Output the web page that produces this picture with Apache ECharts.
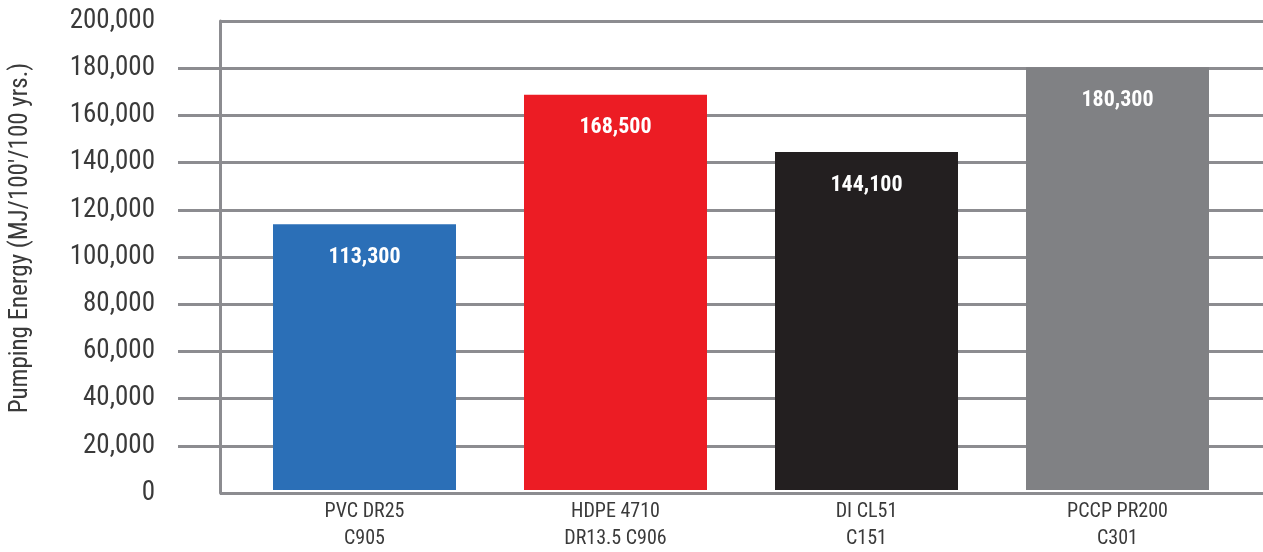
<!DOCTYPE html>
<html><head><meta charset="utf-8">
<script src="https://cdn.jsdelivr.net/npm/echarts@6/dist/echarts.min.js"></script>
<style>html,body{margin:0;padding:0;background:#fff}#c{width:1263px;height:552px}</style>
</head><body><div id="c"></div>
<script>
const categories = ['PVC DR25\nC905', 'HDPE 4710\nDR13.5 C906', 'DI CL51\nC151', 'PCCP PR200\nC301'];
const values = [113300, 168500, 144100, 180300];
const barColors = ['#2b6fb7', '#ec1c24', '#231f20', '#808184'];
const yTicks = [0, 20000, 40000, 60000, 80000, 100000, 120000, 140000, 160000, 180000, 200000];
const yName = "Pumping Energy (MJ/100'/100 yrs.)";

const FONT = '"Liberation Sans Narrow", "Roboto Condensed", "DejaVu Sans Condensed", "Liberation Sans", sans-serif';
const GRID = '#8c8c90';
const yMin = yTicks[0], yMax = yTicks[yTicks.length - 1], yStep = yTicks[1] - yTicks[0];

const chart = echarts.init(document.getElementById('c'), null, {renderer: 'canvas'});
chart.setOption({
  animation: false,
  backgroundColor: '#fff',
  grid: [
    {left: 178, right: 0, top: 21, bottom: 59},
    {left: 220, right: 0, top: 21, bottom: 59},
    {left: 239, right: 20, top: 21, bottom: 59},
    {left: 178, right: 0, top: 0, bottom: 76}
  ],
  xAxis: [
    {gridIndex: 0, type: 'value', show: false},
    {gridIndex: 1, type: 'value', show: false},
    {gridIndex: 2, type: 'category', data: categories,
      axisLine: {show: false}, axisTick: {show: false},
      axisLabel: {color: '#3a3a3a', fontFamily: FONT, fontSize: 20, lineHeight: 27, margin: 8}},
    {gridIndex: 3, type: 'value', show: false}
  ],
  yAxis: [
    {gridIndex: 0, type: 'value', min: yMin, max: yMax, interval: yStep,
      axisLine: {show: false}, axisTick: {show: false},
      axisLabel: {color: '#3a3a3a', fontFamily: FONT, fontSize: 27, margin: 23,
        formatter: v => v.toLocaleString('en-US')},
      splitLine: {show: true, showMinLine: false, showMaxLine: false, lineStyle: {color: GRID, width: 3}}},
    {gridIndex: 1, type: 'value', min: yMin, max: yMax, interval: yMax - yMin,
      axisLine: {show: true, lineStyle: {color: GRID, width: 3}}, axisTick: {show: false},
      axisLabel: {show: false},
      splitLine: {show: true, lineStyle: {color: GRID, width: 3}}},
    {gridIndex: 2, type: 'value', min: yMin, max: yMax, interval: yStep, show: false},
    {gridIndex: 3, type: 'value', axisLine: {show: false}, axisTick: {show: false},
      axisLabel: {show: false}, splitLine: {show: false},
      name: yName, nameLocation: 'middle', nameGap: 145,
      nameTextStyle: {color: '#3a3a3a', fontFamily: FONT, fontSize: 25}}
  ],
  series: [{
    type: 'bar', xAxisIndex: 2, yAxisIndex: 2, barWidth: 183,
    data: values.map((v, i) => ({value: v, itemStyle: {color: barColors[i]}})),
    label: {show: true, position: 'insideTop', distance: 22, color: '#fff',
      fontFamily: FONT, fontWeight: 'bold', fontSize: 22,
      formatter: p => p.value.toLocaleString('en-US')}
  }]
});
</script></body></html>
